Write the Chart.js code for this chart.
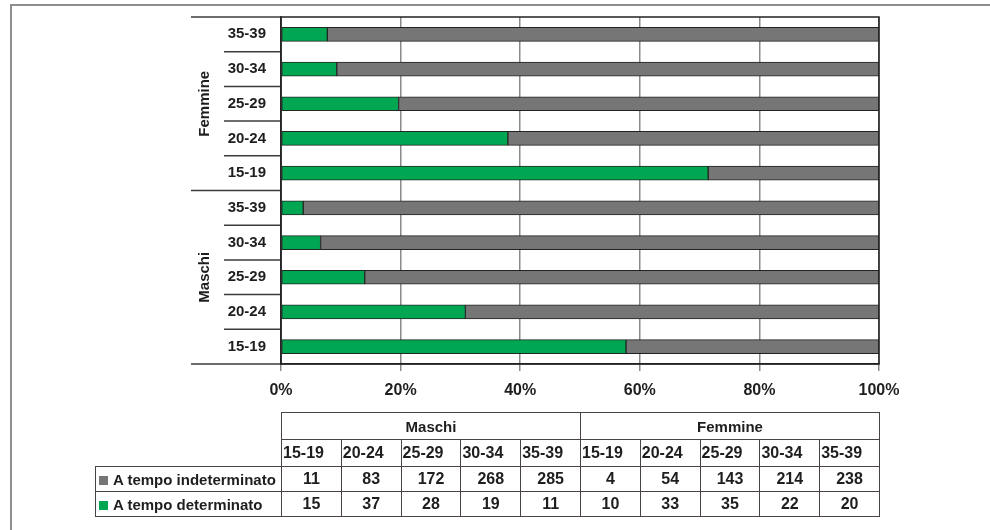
<!DOCTYPE html>
<html>
<head>
<meta charset="utf-8">
<script src="https://cdn.jsdelivr.net/npm/chart.js@4/dist/chart.umd.min.js"></script>
<style>
  html, body { margin: 0; padding: 0; background: #fff; }
  #wrap { position: relative; width: 990px; height: 530px; overflow: hidden; font-family: "Liberation Sans", Arial, sans-serif; }
  #frame { position: absolute; left: 10px; top: 4px; width: 1100px; height: 700px; border-top: 2px solid #8e8e8e; border-left: 2px solid #8e8e8e; }
  canvas { position: absolute; left: 0; top: 0; }
  #tabella { position: absolute; left: 95px; top: 412px; border-collapse: collapse; table-layout: fixed; font-weight: bold; color: #1e1e1e; }
  #tabella td { border: 1.5px solid #4a4343; padding: 0; white-space: nowrap; overflow: hidden; }
  #tabella td.vuoto { border: none; }
  #tabella tr.gruppo td { height: 26px; text-align: center; font-size: 15px; }
  #tabella tr.eta td { height: 26px; text-align: left; font-size: 16px; padding-left: 1px; }
  #tabella tr.valori td { height: 24px; text-align: center; font-size: 16px; }
  #tabella tr.valori td.nome { text-align: left; font-size: 15px; padding-left: 3px; }
  .quadro { display: inline-block; width: 9px; height: 9px; margin-right: 5px; vertical-align: 0px; }
</style>
</head>
<body>
<div id="wrap">
  <div id="frame"></div>
  <canvas id="grafico" width="990" height="530"></canvas>
  <table id="tabella"></table>
</div>
<script>
// Dati
const gruppi = ["Maschi", "Femmine"];
const eta = ["15-19", "20-24", "25-29", "30-34", "35-39"];
const maschiIndeterminato = [11, 83, 172, 268, 285];
const maschiDeterminato = [15, 37, 28, 19, 11];
const femmineIndeterminato = [4, 54, 143, 214, 238];
const femmineDeterminato = [10, 33, 35, 22, 20];
const serie = ["A tempo indeterminato", "A tempo determinato"];
const coloreIndet = "#767676";
const coloreDet = "#00a651";

// Etichette dall'alto: Femmine 35-39 ... Maschi 15-19
const etaInv = eta.slice().reverse();
const etichette = etaInv.concat(etaInv);

function quota(parte, altra) {
  return parte.map((v, i) => (100 * v) / (v + altra[i]));
}
const detPerc = quota(femmineDeterminato, femmineIndeterminato).reverse()
  .concat(quota(maschiDeterminato, maschiIndeterminato).reverse());
const indetPerc = quota(femmineIndeterminato, femmineDeterminato).reverse()
  .concat(quota(maschiIndeterminato, maschiDeterminato).reverse());

// Separatori ed etichette di gruppo a sinistra
const separatori = {
  id: "separatori",
  afterDraw(chart) {
    const ctx = chart.ctx;
    const y = chart.scales.y;
    const area = chart.chartArea;
    const passo = y.getPixelForValue(1) - y.getPixelForValue(0);
    ctx.save();
    ctx.strokeStyle = "#3c3c3c";
    ctx.lineWidth = 1.5;
    for (let i = 0; i <= etichette.length; i++) {
      const py = y.getPixelForValue(i) - passo / 2;
      const lungo = i % eta.length === 0;
      ctx.beginPath();
      ctx.moveTo(lungo ? 191 : 224, py);
      ctx.lineTo(area.left, py);
      ctx.stroke();
    }
    // cornice area grafico
    ctx.strokeStyle = "#222";
    ctx.strokeRect(area.left, area.top, area.right - area.left, area.bottom - area.top);
    // nomi gruppo ruotati
    ctx.fillStyle = "#1e1e1e";
    ctx.font = "bold 15px 'Liberation Sans', Arial, sans-serif";
    ctx.textAlign = "center";
    ctx.textBaseline = "middle";
    const ordine = ["Femmine", "Maschi"];
    ordine.forEach((g, k) => {
      const cy = (y.getPixelForValue(k * 5) + y.getPixelForValue(k * 5 + 4)) / 2;
      ctx.save();
      ctx.translate(205, cy);
      ctx.rotate(-Math.PI / 2);
      ctx.fillText(g, 0, 0);
      ctx.restore();
    });
    ctx.restore();
  }
};

const ctx = document.getElementById("grafico").getContext("2d");
const grafico = new Chart(ctx, {
  type: "bar",
  data: {
    labels: etichette,
    datasets: [
      {
        label: serie[1],
        data: detPerc,
        backgroundColor: coloreDet,
        borderColor: "#1f2a22",
        borderWidth: 1,
        borderSkipped: false,
        barThickness: 14
      },
      {
        label: serie[0],
        data: indetPerc,
        backgroundColor: coloreIndet,
        borderColor: "#222",
        borderWidth: 1,
        borderSkipped: false,
        barThickness: 14
      }
    ]
  },
  options: {
    indexAxis: "y",
    responsive: false,
    animation: false,
    layout: { padding: { left: 0, right: 111, top: 17, bottom: 130 } },
    plugins: { legend: { display: false }, tooltip: { enabled: false } },
    scales: {
      x: {
        stacked: true,
        min: 0,
        max: 100,
        afterFit: (s) => { s.height = 36; },
        ticks: {
          stepSize: 20,
          padding: 10,
          color: "#1e1e1e",
          font: { family: "'Liberation Sans', Arial, sans-serif", size: 16, weight: "bold" },
          callback: (v) => v + "%"
        },
        grid: { color: "#8a8a8a", lineWidth: 1.5, tickLength: 7 },
        border: { display: true, color: "#222", width: 1.5 }
      },
      y: {
        stacked: true,
        afterFit: (s) => { s.width = 281; },
        ticks: {
          padding: 7,
          color: "#1e1e1e",
          font: { family: "'Liberation Sans', Arial, sans-serif", size: 15, weight: "bold" }
        },
        grid: { display: false },
        border: { display: true, color: "#333", width: 1.5 }
      }
    }
  },
  plugins: [separatori]
});

// Tabella dati
function costruisciTabella() {
  const t = document.getElementById("tabella");
  let html = "<colgroup><col style='width:186px'>";
  for (let i = 0; i < 10; i++) html += "<col style='width:59.8px'>";
  html += "</colgroup>";
  html += "<tr class='gruppo'><td class='vuoto'></td>";
  gruppi.forEach((g) => { html += "<td colspan='5'>" + g + "</td>"; });
  html += "</tr><tr class='eta'><td class='vuoto'></td>";
  gruppi.forEach(() => eta.forEach((e) => { html += "<td>" + e + "</td>"; }));
  html += "</tr>";
  const righe = [
    [serie[0], coloreIndet, maschiIndeterminato.concat(femmineIndeterminato)],
    [serie[1], coloreDet, maschiDeterminato.concat(femmineDeterminato)]
  ];
  righe.forEach(([nome, col, val]) => {
    html += "<tr class='valori'><td class='nome'><span class='quadro' style='background:" + col + "'></span>" + nome + "</td>";
    val.forEach((v) => { html += "<td>" + v + "</td>"; });
    html += "</tr>";
  });
  t.innerHTML = html;
}
costruisciTabella();
</script>
</body>
</html>
